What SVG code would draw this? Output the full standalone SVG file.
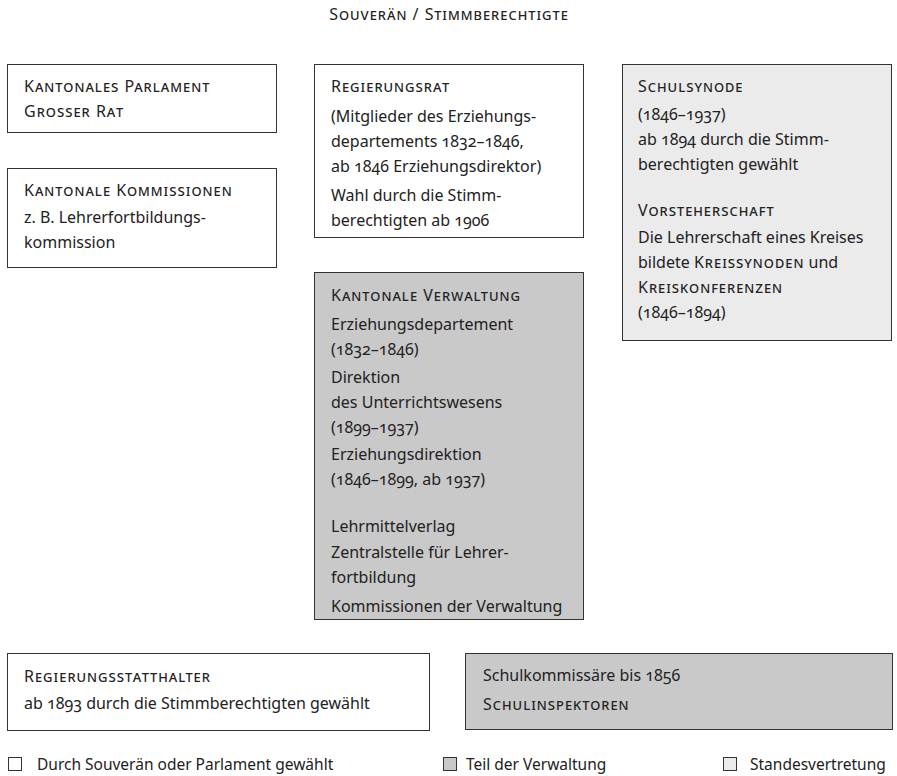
<svg xmlns="http://www.w3.org/2000/svg" width="897" height="776" viewBox="0 0 897 776">
<style>
text{font-family:"Noto Sans","Open Sans","Liberation Sans",sans-serif;font-size:16px;fill:#222;font-variant-numeric:oldstyle-nums;}
.sc{font-variant-caps:small-caps;letter-spacing:1px;}
.lg{font-size:15.5px;}
.box{stroke:#333;stroke-width:1;}
.w{fill:#fff;}
.g{fill:#c9c9c9;}
.l{fill:#ebebeb;}
</style>
<rect width="897" height="776" fill="#fff"/>
<g id="title"><text class="sc" x="449" y="20" text-anchor="middle">Souverän / Stimmberechtigte</text></g>
<g id="parlament">
<rect class="box w" x="7.5" y="64.5" width="269" height="68"/>
<text class="sc" x="24" y="92">Kantonales Parlament</text>
<text class="sc" x="24" y="117">Grosser Rat</text>
</g>
<g id="kommissionen">
<rect class="box w" x="7.5" y="168.5" width="269" height="99"/>
<text class="sc" x="24" y="196">Kantonale Kommissionen</text>
<text x="24" y="223">z. B. Lehrerfortbildungs-</text>
<text x="24" y="248">kommission</text>
</g>
<g id="regierungsrat">
<rect class="box w" x="314.5" y="64.5" width="269" height="173"/>
<text class="sc" x="331" y="92">Regierungsrat</text>
<text x="331" y="122">(Mitglieder des Erziehungs-</text>
<text x="331" y="147">departements 1832–1846,</text>
<text x="331" y="172">ab 1846 Erziehungsdirektor)</text>
<text x="331" y="201">Wahl durch die Stimm-</text>
<text x="331" y="226">berechtigten ab 1906</text>
</g>
<g id="schulsynode">
<rect class="box l" x="622.5" y="64.5" width="269" height="276"/>
<text class="sc" x="638" y="92">Schulsynode</text>
<text x="638" y="120">(1846–1937)</text>
<text x="638" y="145">ab 1894 durch die Stimm-</text>
<text x="638" y="170">berechtigten gewählt</text>
<text class="sc" x="638" y="216">Vorsteherschaft</text>
<text x="638" y="243">Die Lehrerschaft eines Kreises</text>
<text x="638" y="268">bildete <tspan class="sc">Kreissynoden</tspan> und</text>
<text class="sc" x="638" y="293">Kreiskonferenzen</text>
<text x="638" y="318">(1846–1894)</text>
</g>
<g id="verwaltung">
<rect class="box g" x="314.5" y="272.5" width="269" height="347"/>
<text class="sc" x="331" y="301">Kantonale Verwaltung</text>
<text x="331" y="330">Erziehungsdepartement</text>
<text x="331" y="355">(1832–1846)</text>
<text x="331" y="383">Direktion</text>
<text x="331" y="408">des Unterrichtswesens</text>
<text x="331" y="433">(1899–1937)</text>
<text x="331" y="460">Erziehungsdirektion</text>
<text x="331" y="485">(1846–1899, ab 1937)</text>
<text x="331" y="532">Lehrmittelverlag</text>
<text x="331" y="558">Zentralstelle für Lehrer-</text>
<text x="331" y="583">fortbildung</text>
<text x="331" y="612">Kommissionen der Verwaltung</text>
</g>
<g id="statthalter">
<rect class="box w" x="7.5" y="653.5" width="422" height="77"/>
<text class="sc" x="24" y="682">Regierungsstatthalter</text>
<text x="24" y="709">ab 1893 durch die Stimmberechtigten gewählt</text>
</g>
<g id="inspektoren">
<rect class="box g" x="465.5" y="653.5" width="427" height="76"/>
<text x="483" y="681">Schulkommissäre bis 1856</text>
<text class="sc" x="483" y="710">Schulinspektoren</text>
</g>
<g id="legend">
<rect class="box w" x="8.5" y="757.5" width="13" height="13"/>
<text class="lg" x="37" y="770">Durch Souverän oder Parlament gewählt</text>
<rect class="box g" x="443.5" y="757.5" width="13" height="13"/>
<text class="lg" x="466" y="770">Teil der Verwaltung</text>
<rect class="box l" x="723.5" y="757.5" width="13" height="13"/>
<text class="lg" x="750" y="770">Standesvertretung</text>
</g>
</svg>
